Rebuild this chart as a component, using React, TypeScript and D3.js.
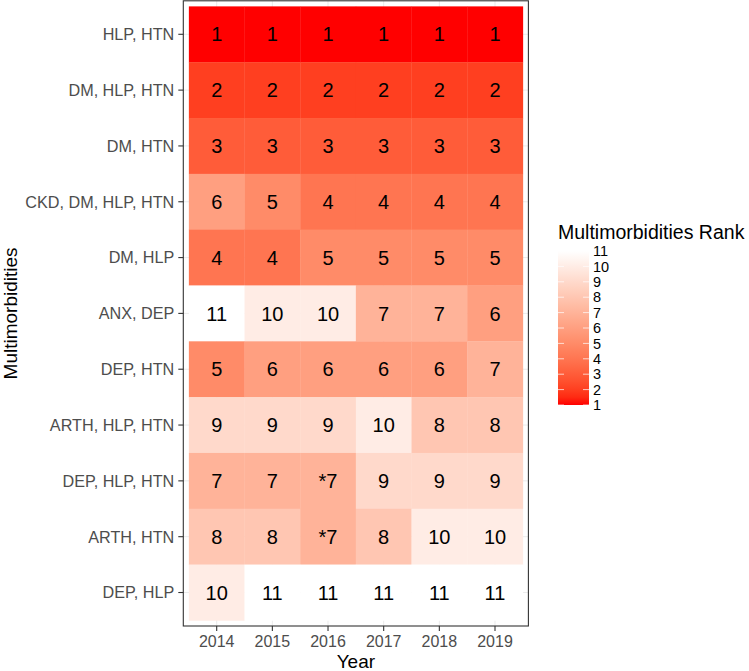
import React from "react";
import * as d3 from "d3";

const years = ["2014", "2015", "2016", "2017", "2018", "2019"];
const combos = [
  "HLP, HTN",
  "DM, HLP, HTN",
  "DM, HTN",
  "CKD, DM, HLP, HTN",
  "DM, HLP",
  "ANX, DEP",
  "DEP, HTN",
  "ARTH, HLP, HTN",
  "DEP, HLP, HTN",
  "ARTH, HTN",
  "DEP, HLP",
];
const ranks: number[][] = [
  [1, 1, 1, 1, 1, 1],
  [2, 2, 2, 2, 2, 2],
  [3, 3, 3, 3, 3, 3],
  [6, 5, 4, 4, 4, 4],
  [4, 4, 5, 5, 5, 5],
  [11, 10, 10, 7, 7, 6],
  [5, 6, 6, 6, 6, 7],
  [9, 9, 9, 10, 8, 8],
  [7, 7, 7, 9, 9, 9],
  [8, 8, 7, 8, 10, 10],
  [10, 11, 11, 11, 11, 11],
];
const rankLabels: string[][] = [
  ["1", "1", "1", "1", "1", "1"],
  ["2", "2", "2", "2", "2", "2"],
  ["3", "3", "3", "3", "3", "3"],
  ["6", "5", "4", "4", "4", "4"],
  ["4", "4", "5", "5", "5", "5"],
  ["11", "10", "10", "7", "7", "6"],
  ["5", "6", "6", "6", "6", "7"],
  ["9", "9", "9", "10", "8", "8"],
  ["7", "7", "*7", "9", "9", "9"],
  ["8", "8", "*7", "8", "10", "10"],
  ["10", "11", "11", "11", "11", "11"],
];
const legendTicks = [1, 2, 3, 4, 5, 6, 7, 8, 9, 10, 11];

const W = 749;
const H = 671;
const FONT = "'Liberation Sans', Arial, sans-serif";

export default function App() {
  const panel = { left: 183.3, right: 528.4, top: 0.8, bottom: 626 };
  const nX = years.length;
  const nY = combos.length;
  const xUnit = (panel.right - panel.left) / (nX - 1 + 1.2);
  const yUnit = (panel.bottom - panel.top) / (nY - 1 + 1.2);
  const x = d3
    .scalePoint<string>()
    .domain(years)
    .range([panel.left + 0.6 * xUnit, panel.right - 0.6 * xUnit]);
  const y = d3
    .scalePoint<string>()
    .domain(combos)
    .range([panel.top + 0.6 * yUnit, panel.bottom - 0.6 * yUnit]);

  const color = d3
    .scaleLinear<string>()
    .domain([1, 11])
    .range(["red", "white"])
    .interpolate(d3.interpolateLab);

  const leg = { x: 558, w: 31, top: 251, bottom: 405 };
  const ly = d3.scaleLinear().domain([1, 11]).range([leg.bottom, leg.top]);
  const gradStops = d3.range(0, 1.0001, 0.05);

  return (
    <svg
      width={W}
      height={H}
      style={{ position: "absolute", left: 0, top: 0, background: "white" }}
      fontFamily={FONT}
    >
      <defs>
        <linearGradient id="legGrad" x1="0" y1="1" x2="0" y2="0">
          {gradStops.map((t) => (
            <stop key={t} offset={t} stopColor={color(1 + 10 * t)} />
          ))}
        </linearGradient>
      </defs>
      <rect x={0} y={0} width={W} height={H} fill="white" />
      {years.map((yr) => (
        <line
          key={"gx" + yr}
          x1={x(yr)}
          x2={x(yr)}
          y1={panel.top}
          y2={panel.bottom}
          stroke="#EBEBEB"
          strokeWidth={1}
        />
      ))}
      {combos.map((c) => (
        <line
          key={"gy" + c}
          x1={panel.left}
          x2={panel.right}
          y1={y(c)}
          y2={y(c)}
          stroke="#EBEBEB"
          strokeWidth={1}
        />
      ))}
      {combos.map((c, i) =>
        years.map((yr, j) => (
          <rect
            key={"t" + i + "-" + j}
            x={(x(yr) as number) - xUnit / 2}
            y={(y(c) as number) - yUnit / 2}
            width={xUnit + 0.3}
            height={yUnit + 0.3}
            fill={color(ranks[i][j])}
          />
        ))
      )}
      {combos.map((c, i) =>
        years.map((yr, j) => (
          <text
            key={"l" + i + "-" + j}
            x={x(yr)}
            y={y(c)}
            dy="0.36em"
            textAnchor="middle"
            fontSize={20}
            fill="black"
          >
            {rankLabels[i][j]}
          </text>
        ))
      )}
      <rect
        x={panel.left}
        y={panel.top}
        width={panel.right - panel.left}
        height={panel.bottom - panel.top}
        fill="none"
        stroke="#333333"
        strokeWidth={1.1}
      />
      {combos.map((c) => (
        <g key={"ya" + c}>
          <line
            x1={panel.left - 5}
            x2={panel.left}
            y1={y(c)}
            y2={y(c)}
            stroke="#333333"
            strokeWidth={1.1}
          />
          <text
            x={panel.left - 9}
            y={y(c)}
            dy="0.36em"
            textAnchor="end"
            fontSize={16.2}
            fill="#4D4D4D"
          >
            {c}
          </text>
        </g>
      ))}
      {years.map((yr) => (
        <g key={"xa" + yr}>
          <line
            x1={x(yr)}
            x2={x(yr)}
            y1={panel.bottom}
            y2={panel.bottom + 5}
            stroke="#333333"
            strokeWidth={1.1}
          />
          <text
            x={x(yr)}
            y={647}
            textAnchor="middle"
            fontSize={16}
            fill="#4D4D4D"
          >
            {yr}
          </text>
        </g>
      ))}
      <text
        x={(panel.left + panel.right) / 2}
        y={668}
        textAnchor="middle"
        fontSize={19}
        fill="black"
      >
        Year
      </text>
      <text
        transform={`translate(16.5,${(panel.top + panel.bottom) / 2}) rotate(-90)`}
        textAnchor="middle"
        fontSize={19}
        fill="black"
      >
        Multimorbidities
      </text>
      <text x={leg.x} y={239} fontSize={19.5} fill="black">
        Multimorbidities Rank
      </text>
      <rect
        x={leg.x}
        y={leg.top}
        width={leg.w}
        height={leg.bottom - leg.top}
        fill="url(#legGrad)"
      />
      {legendTicks.map((t) => (
        <g key={"lt" + t}>
          <line
            x1={leg.x}
            x2={leg.x + 6}
            y1={ly(t)}
            y2={ly(t)}
            stroke="white"
            strokeWidth={1}
            opacity={0.7}
          />
          <line
            x1={leg.x + leg.w - 6}
            x2={leg.x + leg.w}
            y1={ly(t)}
            y2={ly(t)}
            stroke="white"
            strokeWidth={1}
            opacity={0.7}
          />
          <text
            x={leg.x + leg.w + 4}
            y={ly(t)}
            dy="0.36em"
            fontSize={14.5}
            fill="black"
          >
            {t}
          </text>
        </g>
      ))}
    </svg>
  );
}
